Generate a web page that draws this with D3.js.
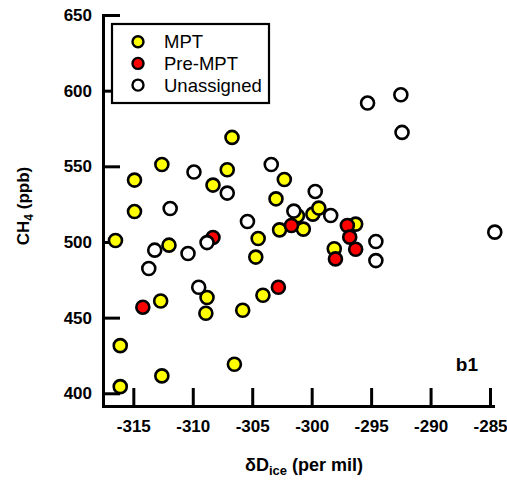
<!DOCTYPE html>
<html>
<head>
<meta charset="utf-8">
<script src="https://cdn.jsdelivr.net/npm/d3@7"></script>
<style>
  body { margin: 0; background: #fff; }
  text { font-family: "Liberation Sans", Arial, Helvetica, sans-serif; }
</style>
</head>
<body>
<script>
// dD_ice (per mil) and CH4 (ppb)
const mptX = [-316.5, -316.1, -316.1, -314.9, -314.9, -312.7, -312.6, -312.6, -312.0, -308.3,
              -308.8, -308.9, -307.1, -306.7, -306.5, -305.8, -304.5, -304.7, -304.1, -303.0,
              -302.7, -302.3, -301.2, -300.7, -299.9, -299.4, -298.1, -296.3];
const mptY = [501, 404.4, 431.5, 540.9, 520.1, 461, 551.2, 411.5, 497.9, 537.6,
              463.3, 452.9, 547.7, 569.1, 419.2, 454.9, 502.3, 490, 464.8, 528.5,
              508, 541.3, 517.3, 508.5, 518.4, 522.4, 495.5, 511.8];

const preX = [-314.2, -308.3, -302.8, -301.7, -297.0, -296.8, -296.3, -298.0];
const preY = [456.9, 503, 470.1, 510.9, 510.9, 503.2, 495.2, 488.8];

const unX = [-313.7, -313.2, -311.9, -310.4, -309.9, -309.5, -308.8, -307.1, -305.4, -303.4,
             -301.5, -299.7, -298.4, -294.6, -294.6, -295.3, -292.5, -292.4, -284.6];
const unY = [482.5, 494.6, 522.1, 492.4, 546.2, 470.1, 499.6, 532.3, 513.5, 551.2,
             520.4, 533.4, 517.5, 500.3, 487.7, 591.8, 597.3, 572.4, 506.5];

const xTicks = [-315, -310, -305, -300, -295, -290, -285];
const yTicks = [400, 450, 500, 550, 600, 650];

const seriesNames = ['MPT', 'Pre-MPT', 'Unassigned'];
const seriesColors = ['#ffff00', '#ff0000', '#ffffff'];

const W = 507, H = 482;
const svg = d3.select('body').append('svg')
  .attr('width', W)
  .attr('height', H);

const x = d3.scaleLinear().domain([-317.55, -284.75]).range([103, 493]);
const y = d3.scaleLinear().domain([391.6, 650]).range([406, 15]);

// axes, ticks pointing inward
const xAxis = svg.append('g')
  .attr('transform', 'translate(0,406)')
  .call(d3.axisBottom(x).tickValues(xTicks).tickSizeInner(-18).tickSizeOuter(0).tickPadding(11)
    .tickFormat(d => String(d)));

const yAxis = svg.append('g')
  .attr('transform', 'translate(103,0)')
  .call(d3.axisLeft(y).tickValues(yTicks).tickSizeInner(-17).tickSizeOuter(0).tickPadding(11));

[xAxis, yAxis].forEach(g => {
  g.select('.domain').attr('stroke', '#000').attr('stroke-width', 3).attr('stroke-linecap', 'square');
  g.selectAll('.tick line').attr('stroke', '#000').attr('stroke-width', 3);
  g.selectAll('.tick text')
    .attr('fill', '#000')
    .style('font-size', '17px')
    .style('font-weight', 'bold');
});
xAxis.selectAll('.tick text').attr('dy', '0.9em');

// points
function addPoints(xs, ys, color) {
  svg.append('g')
    .selectAll('circle')
    .data(xs.map((d, i) => [d, ys[i]]))
    .join('circle')
      .attr('cx', d => x(d[0]))
      .attr('cy', d => y(d[1]))
      .attr('r', 6.5)
      .attr('fill', color)
      .attr('stroke', '#000')
      .attr('stroke-width', 2.6);
}
addPoints(mptX, mptY, seriesColors[0]);
addPoints(preX, preY, seriesColors[1]);
addPoints(unX, unY, seriesColors[2]);

// legend
const legend = svg.append('g');
legend.append('rect')
  .attr('x', 112).attr('y', 24).attr('width', 157).attr('height', 79)
  .attr('fill', '#fff').attr('stroke', '#000').attr('stroke-width', 2.2);
seriesNames.forEach((name, i) => {
  const cy = 41.7 + i * 21.7;
  legend.append('circle')
    .attr('cx', 138).attr('cy', cy).attr('r', 5.5)
    .attr('fill', seriesColors[i]).attr('stroke', '#000').attr('stroke-width', 2.4);
  legend.append('text')
    .attr('x', 164).attr('y', cy).attr('dy', '0.36em')
    .style('font-size', '18.5px')
    .text(name);
});

// panel label
svg.append('text')
  .attr('x', 478).attr('y', 371)
  .attr('text-anchor', 'end')
  .style('font-size', '19px').style('font-weight', 'bold')
  .text('b1');

// axis titles
const xt = svg.append('text')
  .attr('x', 304).attr('y', 471)
  .attr('text-anchor', 'middle')
  .style('font-size', '18px').style('font-weight', 'bold');
xt.append('tspan').text('δD');
xt.append('tspan').attr('dy', 4).style('font-size', '13px').text('ice');
xt.append('tspan').attr('dy', -4).text(' (per mil)');

const yt = svg.append('text')
  .attr('transform', 'translate(29,206) rotate(-90)')
  .attr('text-anchor', 'middle')
  .style('font-size', '17px').style('font-weight', 'bold');
yt.append('tspan').text('CH');
yt.append('tspan').attr('dy', 4).style('font-size', '12px').text('4');
yt.append('tspan').attr('dy', -4).text(' (ppb)');
</script>
</body>
</html>
